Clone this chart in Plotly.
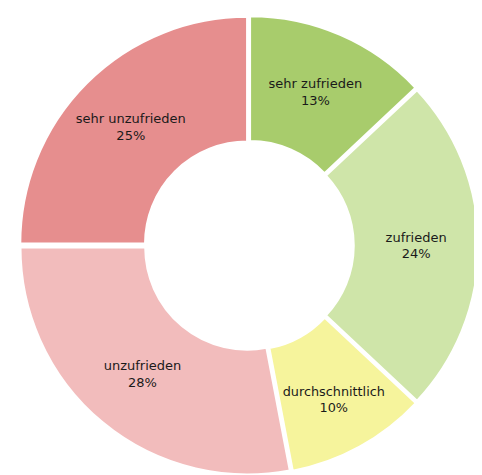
import plotly.graph_objects as go

labels = ["sehr zufrieden", "zufrieden", "durchschnittlich", "unzufrieden", "sehr unzufrieden"]
values = [13, 24, 10, 28, 25]
colors = ["#a8cc6c", "#cfe5a9", "#f6f49c", "#f2bcbc", "#e68e8e"]

fig = go.Figure(go.Pie(
    labels=labels, values=values, hole=0.45, sort=False, direction="clockwise",
    rotation=0, marker=dict(colors=colors, line=dict(color="white", width=2)),
    pull=[0.012] * 5,
    texttemplate="%{label}<br>%{percent:.0%}", textinfo="text", textposition="inside",
    insidetextorientation="horizontal",
    textfont=dict(family="DejaVu Sans", size=13, color="#1a1a1a"),
))
fig.update_layout(width=482, height=475, showlegend=False, paper_bgcolor="white",
                  margin=dict(l=10, r=10, t=8, b=8))
fig.write_html("out.html")
